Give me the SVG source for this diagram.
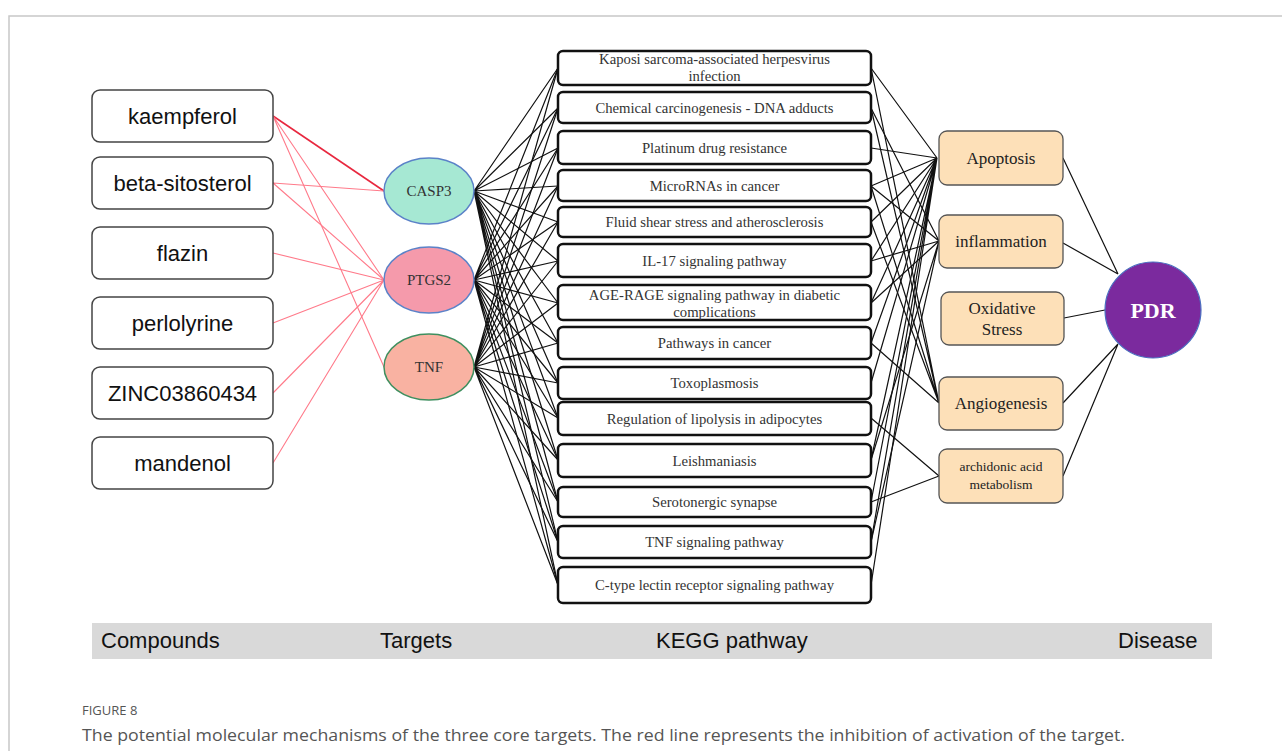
<svg xmlns="http://www.w3.org/2000/svg" width="1282" height="751" viewBox="0 0 1282 751">
<style>
.frame{stroke:#c8c8c8;stroke-width:1.5;fill:none}
.cmp rect{fill:#fff;stroke:#444;stroke-width:1.5}
.cmp text{font-family:"Liberation Sans",Arial,sans-serif;font-size:22px;fill:#111;text-anchor:middle}
.tgt text{font-family:"Liberation Serif","Times New Roman",serif;font-size:15px;fill:#333;text-anchor:middle}
.pw rect{fill:#fff;stroke:#111;stroke-width:2.5}
.pw text{font-family:"Liberation Serif","Times New Roman",serif;font-size:14.7px;fill:#333;text-anchor:middle}
.cat rect{fill:#fde0b8;stroke:#555;stroke-width:1.3}
.cat text{font-family:"Liberation Serif","Times New Roman",serif;font-size:17px;fill:#222;text-anchor:middle}
.red{stroke:#ff7a8a;stroke-width:1.1;fill:none}
.redk{stroke:#e8283f;stroke-width:1.6;fill:none}
.blk{stroke:#111;stroke-width:1.2;fill:none}
.bar text{font-family:"Liberation Sans",Arial,sans-serif;font-size:22px;fill:#111}
.cap{font-family:"Open Sans","Noto Sans",sans-serif;fill:#555}
</style>
<rect width="1282" height="751" fill="#fff"/>
<path class="frame" d="M9,751 V16 H1282"/>

<g id="connectors">
  <!-- compounds to targets -->
  <path class="redk" d="M273,116 L384,191"/>
  <path class="red" d="M273,116 L384,280 M273,116 L384,367"/>
  <path class="red" d="M273,183 L384,191 M273,183 L384,280"/>
  <path class="red" d="M273,253 L384,280 M273,323 L384,280 M273,393 L384,280 M273,463 L384,280"/>
  <!-- targets to pathways -->
  <g class="blk">
    <path d="M474,191 L558,68 M474,191 L558,108 M474,191 L558,148 M474,191 L558,186 M474,191 L558,222 M474,191 L558,261 M474,191 L558,303 M474,191 L558,343 M474,191 L558,383 M474,191 L558,418 M474,191 L558,460 M474,191 L558,502 M474,191 L558,542 M474,191 L558,585"/>
    <path d="M474,280 L558,68 M474,280 L558,108 M474,280 L558,148 M474,280 L558,186 M474,280 L558,222 M474,280 L558,261 M474,280 L558,303 M474,280 L558,343 M474,280 L558,383 M474,280 L558,418 M474,280 L558,460 M474,280 L558,502 M474,280 L558,542 M474,280 L558,585"/>
    <path d="M474,367 L558,68 M474,367 L558,108 M474,367 L558,148 M474,367 L558,186 M474,367 L558,222 M474,367 L558,261 M474,367 L558,303 M474,367 L558,343 M474,367 L558,383 M474,367 L558,418 M474,367 L558,460 M474,367 L558,502 M474,367 L558,542 M474,367 L558,585"/>
  </g>
  <!-- pathways to categories -->
  <g class="blk">
    <path d="M871,68 L937,158 M871,148 L937,158 M871,186 L937,158 M871,222 L937,158 M871,261 L937,158 M871,303 L937,158 M871,343 L937,158 M871,383 L937,158 M871,460 L937,158 M871,502 L937,158 M871,542 L937,158 M871,585 L937,158"/>
    <path d="M871,108 L939,241 M871,186 L939,241 M871,261 L939,241 M871,303 L939,241 M871,460 L939,241 M871,542 L939,241"/>
    <path d="M871,68 L939,403 M871,108 L939,403 M871,186 L939,403 M871,222 L939,403 M871,343 L939,403"/>
    <path d="M871,418 L939,476 M871,502 L939,476"/>
  </g>
  <!-- categories to disease -->
  <g class="blk">
    <path d="M1063,158 L1118,274 M1063,243 L1118,274 M1064,318 L1105,310 M1063,403 L1118,344 M1063,476 L1118,344"/>
  </g>
</g>

<g id="compounds" class="cmp">
  <g id="c-kaempferol"><rect x="92" y="90" width="181" height="52" rx="8"/><text x="182.5" y="124">kaempferol</text></g>
  <g id="c-beta"><rect x="92" y="157" width="181" height="52" rx="8"/><text x="182.5" y="191">beta-sitosterol</text></g>
  <g id="c-flazin"><rect x="92" y="227" width="181" height="52" rx="8"/><text x="182.5" y="261">flazin</text></g>
  <g id="c-perlolyrine"><rect x="92" y="297" width="181" height="52" rx="8"/><text x="182.5" y="331">perlolyrine</text></g>
  <g id="c-zinc"><rect x="92" y="367" width="181" height="52" rx="8"/><text x="182.5" y="401">ZINC03860434</text></g>
  <g id="c-mandenol"><rect x="92" y="437" width="181" height="52" rx="8"/><text x="182.5" y="471">mandenol</text></g>
</g>

<g id="targets" class="tgt">
  <g id="t-casp3"><ellipse cx="429" cy="191" rx="45" ry="33" fill="#a6e8d3" stroke="#5b82c8" stroke-width="1.5"/><text x="429" y="196">CASP3</text></g>
  <g id="t-ptgs2"><ellipse cx="429" cy="280" rx="45" ry="33" fill="#f59aab" stroke="#5b82c8" stroke-width="1.5"/><text x="429" y="285">PTGS2</text></g>
  <g id="t-tnf"><ellipse cx="429" cy="367" rx="45" ry="33" fill="#f9b2a2" stroke="#3f8f5f" stroke-width="1.5"/><text x="429" y="372">TNF</text></g>
</g>

<g id="pathways" class="pw">
  <g id="p1"><rect x="558" y="51" width="313" height="34" rx="5"/><text x="714.5" y="64">Kaposi sarcoma-associated herpesvirus</text><text x="714.5" y="80.5">infection</text></g>
  <g id="p2"><rect x="558" y="92" width="313" height="31" rx="5"/><text x="714.5" y="113">Chemical carcinogenesis - DNA adducts</text></g>
  <g id="p3"><rect x="558" y="131" width="313" height="33" rx="5"/><text x="714.5" y="153">Platinum drug resistance</text></g>
  <g id="p4"><rect x="558" y="170" width="313" height="31" rx="5"/><text x="714.5" y="191">MicroRNAs in cancer</text></g>
  <g id="p5"><rect x="558" y="207" width="313" height="30" rx="5"/><text x="714.5" y="227">Fluid shear stress and atherosclerosis</text></g>
  <g id="p6"><rect x="558" y="244" width="313" height="33" rx="5"/><text x="714.5" y="266">IL-17 signaling pathway</text></g>
  <g id="p7"><rect x="558" y="285" width="313" height="35" rx="5"/><text x="714.5" y="300">AGE-RAGE signaling pathway in diabetic</text><text x="714.5" y="316.5">complications</text></g>
  <g id="p8"><rect x="558" y="327" width="313" height="32" rx="5"/><text x="714.5" y="348">Pathways in cancer</text></g>
  <g id="p9"><rect x="558" y="367" width="313" height="32" rx="5"/><text x="714.5" y="388">Toxoplasmosis</text></g>
  <g id="p10"><rect x="558" y="402" width="313" height="33" rx="5"/><text x="714.5" y="423.5">Regulation of lipolysis in adipocytes</text></g>
  <g id="p11"><rect x="558" y="444" width="313" height="33" rx="5"/><text x="714.5" y="465.5">Leishmaniasis</text></g>
  <g id="p12"><rect x="558" y="487" width="313" height="30" rx="5"/><text x="714.5" y="507">Serotonergic synapse</text></g>
  <g id="p13"><rect x="558" y="526" width="313" height="32" rx="5"/><text x="714.5" y="547">TNF signaling pathway</text></g>
  <g id="p14"><rect x="558" y="567" width="313" height="36" rx="5"/><text x="714.5" y="590">C-type lectin receptor signaling pathway</text></g>
</g>

<g id="categories" class="cat">
  <g id="k-apoptosis"><rect x="939" y="131" width="124" height="54" rx="8"/><text x="1001" y="164">Apoptosis</text></g>
  <g id="k-inflammation"><rect x="939" y="215" width="124" height="53" rx="8"/><text x="1001" y="247">inflammation</text></g>
  <g id="k-oxidative"><rect x="941" y="292" width="123" height="53" rx="8"/><text x="1002" y="314">Oxidative</text><text x="1002" y="335">Stress</text></g>
  <g id="k-angiogenesis"><rect x="939" y="377" width="124" height="53" rx="8"/><text x="1001" y="409">Angiogenesis</text></g>
  <g id="k-arachidonic"><rect x="939" y="449" width="124" height="54" rx="8"/><text x="1001" y="471" style="font-size:13.5px">archidonic acid</text><text x="1001" y="489" style="font-size:13.5px">metabolism</text></g>
</g>

<g id="disease">
  <circle cx="1153" cy="310" r="48" fill="#7b2a9e" stroke="#4a6fc0" stroke-width="1.2"/>
  <text x="1153" y="318" font-family="'Liberation Serif','Times New Roman',serif" font-size="22" font-weight="bold" fill="#fff" text-anchor="middle">PDR</text>
</g>

<g id="legend-bar" class="bar">
  <rect x="92" y="623" width="1120" height="36" fill="#d9d9d9"/>
  <text x="101" y="648">Compounds</text>
  <text x="380" y="648">Targets</text>
  <text x="656" y="648">KEGG pathway</text>
  <text x="1118" y="648">Disease</text>
</g>

<g id="caption">
  <text class="cap" x="82" y="715" font-size="13">FIGURE 8</text>
  <text class="cap" x="82" y="741" font-size="16" textLength="1043" lengthAdjust="spacingAndGlyphs">The potential molecular mechanisms of the three core targets. The red line represents the inhibition of activation of the target.</text>
</g>
</svg>
